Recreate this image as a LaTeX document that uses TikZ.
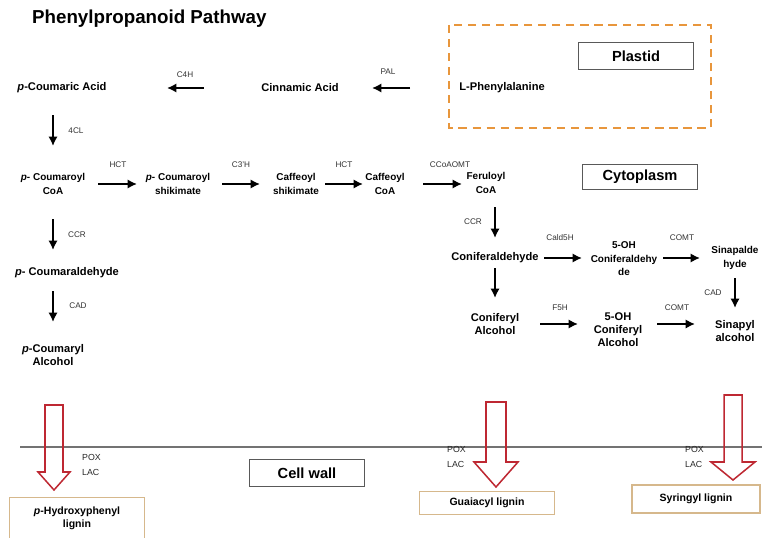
\documentclass[tikz,border=0pt]{standalone}
\usepackage{fontspec}
\setmainfont{Liberation Sans}
\usepackage{xcolor}
\usepackage{tikz}
\usetikzlibrary{arrows.meta}

\definecolor{plastidorange}{RGB}{232,150,60}
\definecolor{ligninedge}{RGB}{214,184,140}
\definecolor{hollowred}{RGB}{190,40,50}

\tikzset{
  cmpd/.style={font=\fontsize{9.5}{11}\selectfont\bfseries, align=center, inner sep=1pt},
  cmpdsm/.style={font=\fontsize{8.5}{11.5}\selectfont\bfseries, align=center, inner sep=1pt},
  enz/.style={font=\fontsize{7}{8.5}\selectfont, text=black!80, inner sep=1pt},
  poxlac/.style={font=\fontsize{7.5}{12.5}\selectfont, text=black!85, align=left, anchor=west, inner sep=0pt},
  rxn/.style={-{Latex[length=8pt,width=8pt]}, line width=2.2pt},
  compbox/.style={draw=black!65, line width=0.9pt, font=\fontsize{12.5}{14}\selectfont\bfseries, minimum width=3.45cm},
  ligbox/.style={draw=ligninedge, line width=0.9pt, font=\fontsize{9}{11}\selectfont\bfseries, align=center},
  hollow/.style={draw=hollowred, line width=1.3pt, line join=miter}
}

\begin{document}
\begin{tikzpicture}[x=0.03cm, y=-0.03cm]
    \useasboundingbox (0,0) rectangle (762,538);

    % title and compartments
    \node[anchor=west, font=\fontsize{16}{18}\selectfont\bfseries] (title) at (28,19) {Phenylpropanoid Pathway};
    \draw[plastidorange, line width=1.6pt, dash pattern=on 7pt off 5pt] (449,25) rectangle (711,128);
    \node[compbox, minimum height=0.81cm] (plastid) at (636,56) {Plastid};
    \node[compbox, minimum height=0.75cm] (cyto) at (640,177) {Cytoplasm};
    \node[compbox, minimum height=0.81cm] (cellwall) at (307,473) {Cell wall};

    % compounds
    \node[cmpd, anchor=west] (lphe) at (458,88) {L-Phenylalanine};
    \node[cmpd] (cinn) at (300,88) {Cinnamic Acid};
    \node[cmpd] (pca) at (62,88) {\textit{p}-Coumaric Acid};
    \node[cmpdsm] (pcoa) at (53,184) {\textit{p}- Coumaroyl\\CoA};
    \node[cmpdsm] (pcsh) at (178,184) {\textit{p}- Coumaroyl\\shikimate};
    \node[cmpdsm] (cash) at (296,184) {Caffeoyl\\shikimate};
    \node[cmpdsm] (cacoa) at (385,184) {Caffeoyl\\CoA};
    \node[cmpdsm] (fercoa) at (486,183) {Feruloyl\\CoA};
    \node[cmpd] (pcald) at (67,273) {\textit{p}- Coumaraldehyde};
    \node[cmpd] (pcal) at (53,355) {\textit{p}-Coumaryl\\Alcohol};
    \node[cmpd] (conald) at (495,258) {Coniferaldehyde};
    \node[cmpdsm] (ohald) at (624,259) {5-OH\\Coniferaldehy\\de};
    \node[cmpdsm] (sinald) at (735,258) {Sinapalde\\hyde};
    \node[cmpd] (conal) at (495,324) {Coniferyl\\Alcohol};
    \node[cmpd] (ohal) at (618,330) {5-OH\\Coniferyl\\Alcohol};
    \node[cmpd] (sinal) at (735,331) {Sinapyl\\alcohol};

    % reactions
    \draw[rxn, shorten <=1.44cm, shorten >=2.16cm] (lphe.west) -- (cinn.center);
    \draw[rxn, shorten <=2.88cm, shorten >=3.15cm] (cinn.center) -- (pca.center);
    \draw[rxn, shorten <=0.81cm, shorten >=1.14cm] (pcoa.center |- pca.center) -- (pcoa.center);
    \draw[rxn, shorten <=1.35cm, shorten >=1.23cm] (pcoa.center) -- (pcsh.center);
    \draw[rxn, shorten <=1.32cm, shorten >=1.08cm] (pcsh.center) -- (cash.center);
    \draw[rxn, shorten <=0.87cm, shorten >=0.66cm] (cash.center) -- (cacoa.center);
    \draw[rxn, shorten <=1.14cm, shorten >=0.72cm] (cacoa.center) -- (cacoa.center -| fercoa.center);
    \draw[rxn, shorten <=0.72cm, shorten >=0.60cm] (conald.center |- fercoa.center) -- (conald.center);
    \draw[rxn, shorten <=1.05cm, shorten >=0.69cm] (pcoa.center) -- (pcoa.center |- pcald.center);
    \draw[rxn, shorten <=0.54cm, shorten >=0.99cm] (pcal.center |- pcald.center) -- (pcal.center);
    \draw[rxn, shorten <=1.47cm, shorten >=1.26cm] (conald.center) -- (ohald.center |- conald.center);
    \draw[rxn, shorten <=1.17cm, shorten >=1.05cm] (ohald.center |- conald.center) -- (sinald.center);
    \draw[rxn, shorten <=0.60cm, shorten >=0.69cm] (sinald.center) -- (sinal.center);
    \draw[rxn, shorten <=0.30cm, shorten >=0.78cm] (conald.center) -- (conal.center);
    \draw[rxn, shorten <=1.35cm, shorten >=1.20cm] (conal.center) -- (ohal.center |- conal.center);
    \draw[rxn, shorten <=1.17cm, shorten >=1.20cm] (ohal.center |- conal.center) -- (sinal.center |- conal.center);

    % enzymes
    \node[enz] (pal) at (388,72) {PAL};
    \node[enz] (c4h) at (185,75) {C4H};
    \node[enz] (fourcl) at (76,131) {4CL};
    \node[enz] (hct1) at (118,165) {HCT};
    \node[enz] (c3h) at (241,165) {C3'H};
    \node[enz] (hct2) at (344,165) {HCT};
    \node[enz] (ccoaomt) at (450,165) {CCoAOMT};
    \node[enz] (ccr2) at (473,222) {CCR};
    \node[enz] (ccr1) at (77,235) {CCR};
    \node[enz] (cad1) at (78,306) {CAD};
    \node[enz] (cald5h) at (560,238) {Cald5H};
    \node[enz] (comt1) at (682,238) {COMT};
    \node[enz] (cad2) at (713,293) {CAD};
    \node[enz] (f5h) at (560,308) {F5H};
    \node[enz] (comt2) at (677,308) {COMT};

    % cell wall
    \draw[black!55, line width=2.4pt] (20,447) -- (762,447);
    \draw[hollow] (45,405) -- (63,405) -- (63,472) -- (70,472) -- (54,490) -- (38,472) -- (45,472) -- cycle;
    \draw[hollow] (486,402) -- (506,402) -- (506,462) -- (518,462) -- (496,487) -- (474,462) -- (486,462) -- cycle;
    \draw[hollow] (724,395) -- (742,395) -- (742,462) -- (755,462) -- (733,480) -- (711,462) -- (724,462) -- cycle;
    \node[poxlac] (pl1) at (82,465) {POX\\LAC};
    \node[poxlac] (pl2) at (447,457) {POX\\LAC};
    \node[poxlac] (pl3) at (685,457) {POX\\LAC};

    % lignins
    \node[ligbox, minimum width=4.05cm, minimum height=1.23cm] (hlig) at (77,518) {\textit{p}-Hydroxyphenyl\\lignin};
    \node[ligbox, minimum width=4.05cm, minimum height=0.69cm] (glig) at (487,503) {Guaiacyl lignin};
    \node[ligbox, minimum width=3.84cm, minimum height=0.84cm] (slig) at (696,499) {Syringyl lignin};
  \end{tikzpicture}
\end{document}
